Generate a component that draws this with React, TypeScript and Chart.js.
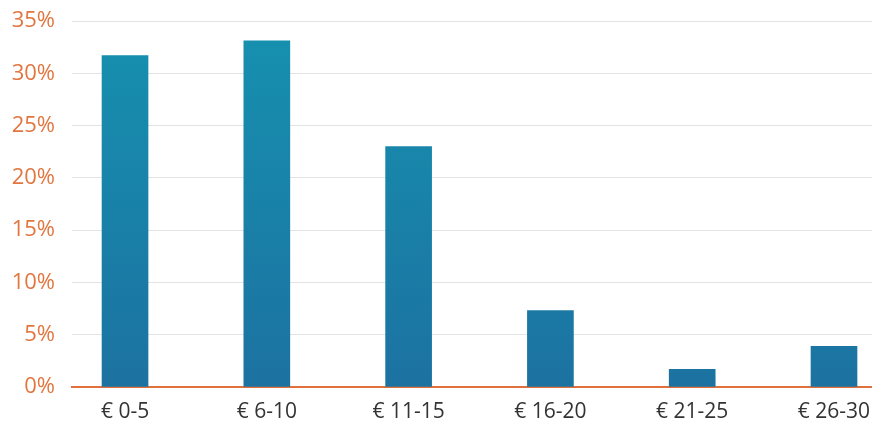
import React, { useEffect, useRef } from "react";
import { Chart, registerables } from "chart.js";

Chart.register(...registerables);

const categories = ["€ 0-5", "€ 6-10", "€ 11-15", "€ 16-20", "€ 21-25", "€ 26-30"];
const shares = [31.7, 33.1, 23.0, 7.3, 1.7, 3.9];
const yTicks = [0, 5, 10, 15, 20, 25, 30, 35];

export default function App() {
  const ref = useRef<HTMLCanvasElement | null>(null);
  useEffect(() => {
    document.body.style.margin = "0";
    const canvas = ref.current!;
    const chart = new Chart(canvas, {
      type: "bar",
      data: {
        datasets: [
          {
            data: shares.map((v, i) => ({ x: i, y: v })),
            barThickness: 46,
            backgroundColor: (ctx: any) => {
              const c = ctx.chart;
              const area = c.chartArea;
              if (!area) return "#1a7fa8";
              const g = c.ctx.createLinearGradient(0, area.top, 0, area.bottom);
              g.addColorStop(0, "#1691af");
              g.addColorStop(1, "#1c72a1");
              return g;
            },
          },
        ],
      },
      options: {
        animation: false,
        responsive: false,
        maintainAspectRatio: false,
        layout: { padding: { top: 21, right: 0, left: 0, bottom: 0 } },
        plugins: { legend: { display: false }, tooltip: { enabled: false } },
        scales: {
          x: {
            type: "linear",
            offset: false,
            min: -0.374,
            max: 5.268,
            grid: { display: false, drawTicks: false },
            border: { display: true, color: "#e0713c", width: 2 },
            afterBuildTicks: (s: any) => {
              s.ticks = categories.map((_, i) => ({ value: i }));
            },
            afterFit: (s: any) => {
              s.height = 37;
              s.paddingLeft = 0;
              s.paddingRight = 0;
            },
            ticks: {
              padding: 12,
              color: "#333333",
              maxRotation: 0,
              autoSkip: false,
              font: { family: "'Open Sans', sans-serif", size: 21 },
              callback: (v: any) => categories[v as number] ?? "",
            },
          },
          y: {
            min: 0,
            max: 35,
            afterBuildTicks: (s: any) => {
              s.ticks = yTicks.map((v) => ({ value: v }));
            },
            afterFit: (s: any) => {
              s.width = 72;
              s.paddingTop = 0;
              s.paddingBottom = 0;
            },
            grid: { color: "#e3e3e3", lineWidth: 1, drawTicks: false },
            border: { display: false },
            ticks: {
              padding: 17,
              color: "#e2763f",
              font: { family: "'Open Sans', sans-serif", size: 22 },
              callback: (v: any) => v + "%",
            },
          },
        },
      },
    } as any);
    return () => chart.destroy();
  }, []);
  return (
    <div style={{ position: "absolute", left: 0, top: 0, width: 872, height: 424 }}>
      <canvas ref={ref} width={872} height={424} />
    </div>
  );
}
